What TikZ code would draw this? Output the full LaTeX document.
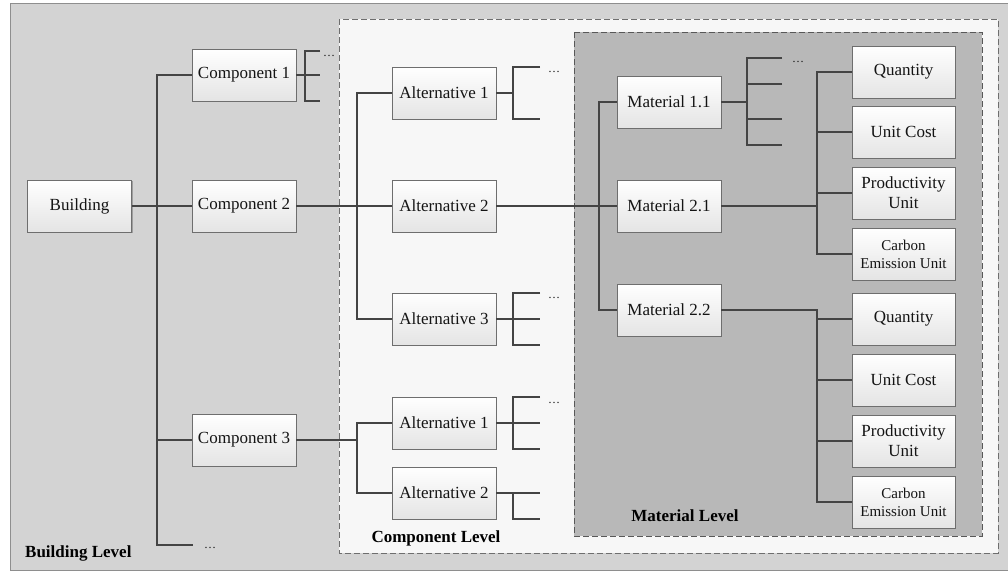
\documentclass[tikz,border=0pt]{standalone}
\usepackage{fontspec}
\setmainfont{Liberation Serif}
\usetikzlibrary{shadows}
\definecolor{outerbg}{HTML}{D3D3D3}
\definecolor{outerline}{HTML}{8E8E8E}
\definecolor{compbg}{HTML}{F7F7F7}
\definecolor{matbg}{HTML}{B8B8B8}
\definecolor{linkc}{HTML}{444444}
\definecolor{boxline}{HTML}{6E6E6E}
\definecolor{boxbot}{HTML}{E4E4E4}
\definecolor{txt}{HTML}{141414}
\tikzset{
  box/.style={draw=boxline, line width=0.8pt, top color=white, bottom color=boxbot,
    minimum width=104pt, minimum height=52pt, inner sep=0pt, align=center,
    text=txt, font=\fontsize{17}{20}\selectfont,
    drop shadow={shadow xshift=1.2pt, shadow yshift=-1.2pt, opacity=0.25, fill=black}},
  attr/.style={box, minimum width=103pt},
  small/.style={font=\fontsize{15}{18}\selectfont},
  link/.style={draw=linkc, line width=2.5pt},
  dots/.style={inner sep=0pt, anchor=base west, text=txt, font=\fontsize{12}{12}\selectfont},
  level/.style={inner sep=0pt, text=black, font=\fontsize{17}{20}\selectfont\bfseries},
  region/.style={dash pattern=on 6pt off 3pt, line width=0.8pt}
}
\begin{document}
\begin{tikzpicture}[x=1pt,y=-1pt]
\useasboundingbox (0,0) rectangle (1008,571);
% regions
\filldraw[fill=outerbg, draw=outerline, line width=1pt] (10,3) rectangle (1015,570);
\filldraw[region, draw=boxline, fill=compbg] (339,19) rectangle (998,553);
\filldraw[region, draw=boxline!80!black, fill=matbg] (574,32) rectangle (982,536);
\node[level, anchor=west] (lb) at (25,553) {Building Level};
\node[level] (lc) at (436,538) {Component Level};
\node[level] (lm) at (685,516) {Material Level};

% building level
\node[box] (B) at (79.5,206) {Building};
\node[box] (C1) at (244,75) {Component 1};
\node[box] (C2) at (244,206) {Component 2};
\node[box] (C3) at (244,440) {Component 3};
\coordinate (T) at (157,0);
\coordinate (tdots) at (193,545);
\node[dots] (d0) at (204,548) {…};

% component level
\node[box] (A1) at (444,93) {Alternative 1};
\node[box] (A2) at (444,206) {Alternative 2};
\node[box] (A3) at (444,319) {Alternative 3};
\node[box] (A1b) at (444,423) {Alternative 1};
\node[box] (A2b) at (444,493) {Alternative 2};
\coordinate (T2) at (357,0);

% material level
\node[box] (M11) at (669,102) {Material 1.1};
\node[box] (M21) at (669,206) {Material 2.1};
\node[box] (M22) at (669,310) {Material 2.2};
\coordinate (T3) at (599,0);
\coordinate (T4) at (817,0);

\node[attr] (Q1) at (903.5,72) {Quantity};
\node[attr] (U1) at (903.5,132) {Unit Cost};
\node[attr] (P1) at (903.5,193) {Productivity\\Unit};
\node[attr, small] (E1) at (903.5,254) {Carbon\\Emission Unit};
\node[attr] (Q2) at (903.5,319) {Quantity};
\node[attr] (U2) at (903.5,380) {Unit Cost};
\node[attr] (P2) at (903.5,441) {Productivity\\Unit};
\node[attr, small] (E2) at (903.5,502) {Carbon\\Emission Unit};

% free ends of brackets
\coordinate (c1a) at (320,51);  \coordinate (c1b) at (320,75);  \coordinate (c1c) at (320,101);
\coordinate (a1a) at (540,67);  \coordinate (a1c) at (540,119);
\coordinate (a3a) at (540,293); \coordinate (a3b) at (540,319); \coordinate (a3c) at (540,345);
\coordinate (b1a) at (540,397); \coordinate (b1b) at (540,423); \coordinate (b1c) at (540,449);
\coordinate (b2a) at (540,493); \coordinate (b2c) at (540,519);
\coordinate (m1a) at (782,58);  \coordinate (m1b) at (782,84);
\coordinate (m1c) at (782,119); \coordinate (m1d) at (782,145);

\node[dots] (d1) at (323,56) {…};
\node[dots] (d2) at (548,72) {…};
\node[dots] (d3) at (548,298) {…};
\node[dots] (d4) at (548,403) {…};
\node[dots] (d5) at (792,62) {…};

% connectors: building -> components
\draw[link] (B.east) -- (C2.west);
\draw[link] (C1.west) -- (C1.west -| T) -- (tdots -| T) -- (tdots);
\draw[link] (C3.west) -- (C3.west -| T);

% component 1 bracket
\draw[link] (C1.east) -- (c1b);
\draw[link] (c1a) -- ++(-15,0) |- (c1c);

% component 2 -> alternatives
\draw[link] (C2.east) -- (A2.west);
\draw[link] (A1.west) -- (A1.west -| T2) -- (A3.west -| T2) -- (A3.west);
% component 3 -> alternatives
\draw[link] (C3.east) -- (C3.east -| T2);
\draw[link] (A1b.west) -- (A1b.west -| T2) -- (A2b.west -| T2) -- (A2b.west);

% alternative brackets
\draw[link] (A1.east) -- ++(17,0);
\draw[link] (a1a) -- ++(-27,0) |- (a1c);
\draw[link] (A3.east) -- (a3b);
\draw[link] (a3a) -- ++(-27,0) |- (a3c);
\draw[link] (A1b.east) -- (b1b);
\draw[link] (b1a) -- ++(-27,0) |- (b1c);
\draw[link] (A2b.east) -- (b2a);
\draw[link] (b2a) ++(-27,0) |- (b2c);

% alternative 2 -> materials
\draw[link] (A2.east) -- (M21.west);
\draw[link] (M11.west) -- (M11.west -| T3) -- (M22.west -| T3) -- (M22.west);

% material 1.1 bracket
\draw[link] (M11.east) -- ++(26,0);
\draw[link] (m1a) -- ++(-35,0) |- (m1d);
\draw[link] (m1b) -- ++(-35,0);
\draw[link] (m1c) -- ++(-35,0);

% material 2.1 attributes
\draw[link] (M21.east) -- (M21.east -| T4);
\draw[link] (Q1.west) -- (Q1.west -| T4) -- (E1.west -| T4) -- (E1.west);
\draw[link] (U1.west) -- (U1.west -| T4);
\draw[link] (P1.west) -- (P1.west -| T4);

% material 2.2 attributes
\draw[link] (M22.east) -- (M22.east -| T4) -- (E2.west -| T4) -- (E2.west);
\draw[link] (Q2.west) -- (Q2.west -| T4);
\draw[link] (U2.west) -- (U2.west -| T4);
\draw[link] (P2.west) -- (P2.west -| T4);
\end{tikzpicture}
\end{document}
